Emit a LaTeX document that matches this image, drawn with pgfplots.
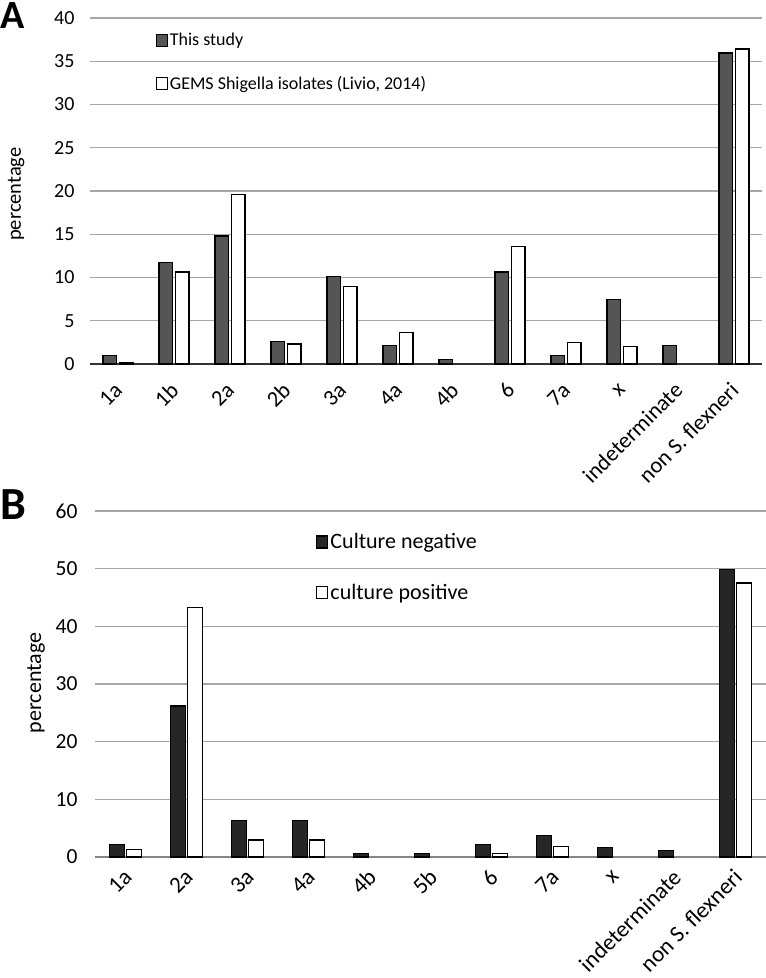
\documentclass[border=0pt]{standalone}
\usepackage{fontspec}
\setmainfont{Carlito}
\usepackage{pgfplots}
\pgfplotsset{compat=1.18}
\definecolor{darkA}{RGB}{85,85,85}
\definecolor{darkB}{RGB}{38,38,38}
\definecolor{gridc}{RGB}{166,166,166}
\pgfplotsset{
  sq legend/.style={legend image code/.code={\draw[fill=#1, draw=black, line width=1.2pt] (0pt,-6pt) rectangle (11pt,6pt);}},
  common/.style={
    scale only axis,
    /pgf/number format/assume math mode=true,
    axis x line*=bottom, axis y line*=left,
    y axis line style={draw=none},
    major tick length=0pt,
    ymajorgrids,
    grid style={gridc, line width=1.3pt},
    ybar,
    legend cell align=left,
    xtick={0,...,11},
  }
}
\begin{document}
\begin{tikzpicture}[x=1pt,y=1pt]
\path[use as bounding box] (0,0) rectangle (766,-978);
\node[font=\fontsize{40}{40}\bfseries\selectfont, anchor=north west, inner sep=0pt] at (0,-2) {A};
\node[font=\fontsize{46}{46}\bfseries\selectfont, anchor=north west, inner sep=0pt] at (0,-489) {B};
\begin{axis}[common,
  at={(90pt,-364pt)}, anchor=south west,
  width=672pt, height=346pt,
  xmin=-0.5, xmax=11.5, ymin=0, ymax=40,
  ytick={0,5,...,40},
  x axis line style={draw=black!80, line width=1.8pt},
  xticklabels={1a,1b,2a,2b,3a,4a,4b,6,7a,x,indeterminate,non S. flexneri},
  xticklabel style={font=\fontsize{22.5}{22.5}\selectfont, xshift=3pt, yshift=-20pt, rotate=45, anchor=east},
  yticklabel style={font=\fontsize{20}{20}\selectfont, xshift=-12pt},
  ylabel={percentage},
  ylabel style={at={(axis description cs:-0.110,0.491)}, anchor=center, font=\fontsize{20.5}{20.5}\selectfont},
  bar width=13.5pt, ybar=3pt,
  legend style={at={(axis description cs:0.093,0.968)}, anchor=north west, draw=none, fill=none,
    font=\fontsize{18}{18}\selectfont, row sep=25pt},
]
\addplot[fill=darkA, draw=black, line width=1.3pt, sq legend=darkA] coordinates {
(0,1.0) (1,11.7) (2,14.8) (3,2.6) (4,10.1) (5,2.15) (6,0.5) (7,10.65) (8,1.0) (9,7.45) (10,2.15) (11,35.95)};
\addplot[fill=white, draw=black, line width=1.3pt, sq legend=white] coordinates {
(0,0.15) (1,10.65) (2,19.6) (3,2.3) (4,9.0) (5,3.65) (7,13.6) (8,2.5) (9,2.05) (11,36.4)};
\legend{This study, {GEMS Shigella isolates (Livio, 2014)}}
\end{axis}
\begin{axis}[common,
  at={(95pt,-857pt)}, anchor=south west,
  width=671pt, height=346pt,
  xmin=-0.5, xmax=10.5, ymin=0, ymax=60,
  ytick={0,10,...,60},
  x axis line style={draw=gridc!80!black, line width=1.6pt},
  xticklabels={1a,2a,3a,4a,4b,5b,6,7a,x,indeterminate,non S. flexneri},
  xticklabel style={font=\fontsize{23}{23}\selectfont, xshift=5pt, yshift=-14pt, rotate=45, anchor=east},
  yticklabel style={font=\fontsize{21.5}{21.5}\selectfont, xshift=-14pt},
  ylabel={percentage},
  ylabel style={at={(axis description cs:-0.088,0.503)}, anchor=center, font=\fontsize{22}{22}\selectfont},
  bar width=15pt, ybar=2pt,
  legend style={at={(axis description cs:0.325,0.947)}, anchor=north west, draw=none, fill=none,
    font=\fontsize{22}{22}\selectfont, row sep=30pt},
]
\addplot[fill=darkB, draw=black, line width=1.3pt, sq legend=darkB] coordinates {
(0,2.15) (1,26.2) (2,6.3) (3,6.3) (4,0.6) (5,0.6) (6,2.15) (7,3.75) (8,1.6) (9,1.15) (10,49.8)};
\addplot[fill=white, draw=black, line width=1.3pt, sq legend=white] coordinates {
(0,1.25) (1,43.3) (2,2.95) (3,2.95) (6,0.6) (7,1.85) (10,47.5)};
\legend{Culture negative, culture positive}
\end{axis}
\end{tikzpicture}
\end{document}
